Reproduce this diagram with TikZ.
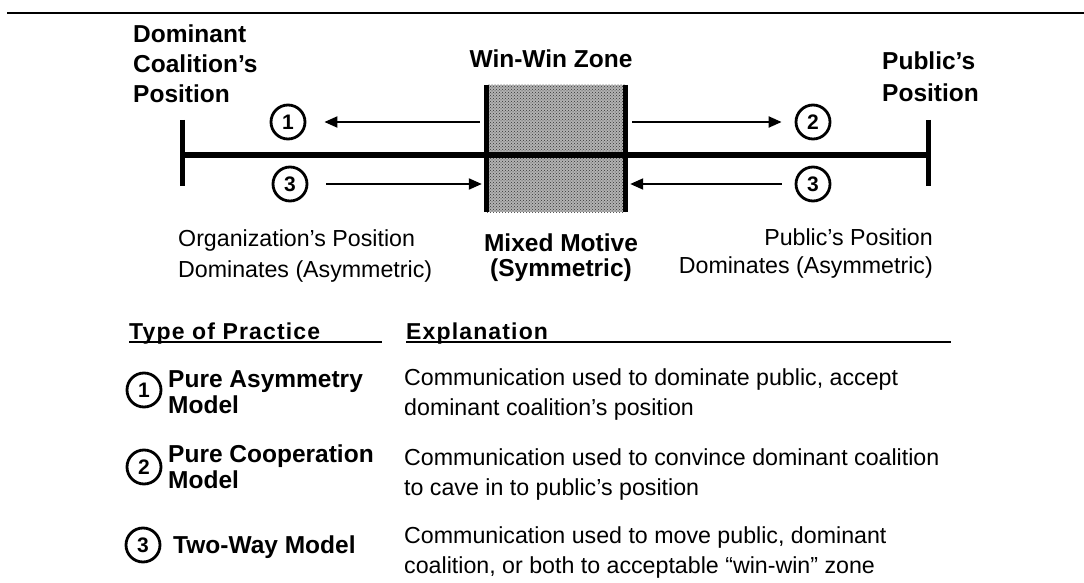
\documentclass[tikz,border=0pt]{standalone}
\usepackage{fontspec}
\setmainfont{Liberation Sans}
\usetikzlibrary{arrows.meta,patterns}

\tikzset{
  hd/.style={font=\bfseries\fontsize{24.5}{30}\selectfont, inner sep=0pt},
  txt/.style={font=\fontsize{23.2}{30}\selectfont, inner sep=0pt},
  colhd/.style={font=\bfseries\fontsize{23}{23}\selectfont\addfontfeatures{LetterSpace=5}, inner sep=0pt},
  num/.style={shape=circle, draw=black, line width=2.8pt, minimum size=34pt,
    inner sep=0pt, font=\bfseries\fontsize{21}{21}\selectfont},
  arr/.style={line width=2pt, -{Triangle[length=13pt,width=11pt]}},
  bar/.style={line width=5pt},
  rule/.style={line width=2.2pt},
}

\begin{document}
\begin{tikzpicture}[x=1pt,y=-1pt]
  \useasboundingbox (0,0) rectangle (1084,583);
  \draw[rule] (7,13) -- (1084,13);

  % the scale between the two positions
  \coordinate (L) at (182,155);
  \coordinate (R) at (928,155);
  \node[minimum width=138pt, minimum height=127pt, inner sep=0pt,
    preaction={fill=gray!60}, pattern=crosshatch dots, pattern color=black!80] (zone) at (556,148.5) {};
  \draw[bar] ([yshift=35pt]L) -- ([yshift=-31pt]L);
  \draw[bar] ([yshift=35pt]R) -- ([yshift=-31pt]R);
  \draw[bar] (L) -- (R);
  \draw[bar] (zone.north west) -- (zone.south west);
  \draw[bar] (zone.north east) -- (zone.south east);

  % multi-line nodes sit on the baseline of their last line
  \node[hd, anchor=base west, align=left] (dom) at (133,103) {Dominant\\Coalition's\\Position};
  \node[hd, anchor=base] (win) at (551,68) {Win-Win Zone};
  \node[hd, anchor=base west, align=left, font=\bfseries\fontsize{24.5}{32}\selectfont] (pub) at (882,102) {Public's\\Position};

  \node[num] (a1) at (288,122) {1};
  \node[num] (a2) at (813,122) {2};
  \node[num] (b3) at (290,184) {3};
  \node[num] (c3) at (813,184) {3};
  \draw[arr, shorten <=7pt, shorten >=18pt] (zone.west |- a1) -- (a1.east);
  \draw[arr, shorten <=7pt, shorten >=13pt] (zone.east |- a2) -- (a2.west);
  \draw[arr, shorten <=18pt, shorten >=5pt] (b3.east) -- (zone.west |- b3);
  \draw[arr, shorten <=13pt, shorten >=5pt] (c3.west) -- (zone.east |- c3);

  \node[txt, anchor=base west, align=left, font=\fontsize{23.2}{31}\selectfont] (org) at (178,277) {Organization's Position\\Dominates (Asymmetric)};
  \node[hd, anchor=base, align=center, font=\bfseries\fontsize{24.5}{25}\selectfont] (mix) at (561,276) {Mixed Motive\\(Symmetric)};
  \node[txt, anchor=base east, align=right, font=\fontsize{23.2}{28}\selectfont] (pubdom) at (933,273) {Public's Position\\Dominates (Asymmetric)};

  % table of practices
  \node[colhd, anchor=base west] (typ) at (129,339) {Type of Practice};
  \node[colhd, anchor=base west] (expl) at (406,339) {Explanation};
  \draw[rule] ([yshift=-3pt]typ.base west) -- ++(253,0);
  \draw[rule] ([yshift=-3pt]expl.base west) -- ++(545,0);

  \node[num] (p1) at (144,390) {1};
  \node[hd, anchor=base west, align=left, font=\bfseries\fontsize{24.5}{26}\selectfont] (m1) at (168,413) {Pure Asymmetry\\Model};
  \node[txt, anchor=base west, align=left] (e1) at (404,415) {Communication used to dominate public, accept\\dominant coalition's position};

  \node[num] (p2) at (144,467) {2};
  \node[hd, anchor=base west, align=left, font=\bfseries\fontsize{24.5}{26}\selectfont] (m2) at (168,488) {Pure Cooperation\\Model};
  \node[txt, anchor=base west, align=left] (e2) at (404,495) {Communication used to convince dominant coalition\\to cave in to public's position};

  \node[num] (p3) at (143,545) {3};
  \node[hd, anchor=base west] (m3) at (173,553) {Two-Way Model};
  \node[txt, anchor=base west, align=left] (e3) at (404,573) {Communication used to move public, dominant\\coalition, or both to acceptable ``win-win'' zone};
\end{tikzpicture}
\end{document}
